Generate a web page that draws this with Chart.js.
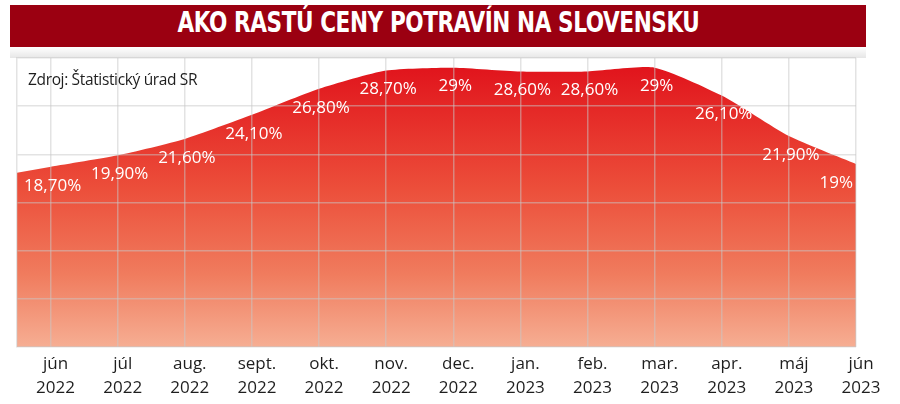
<!DOCTYPE html>
<html lang="sk">
<head>
<meta charset="utf-8">
<script src="https://cdn.jsdelivr.net/npm/chart.js@4/dist/chart.umd.min.js"></script>
<style>
  html, body { margin: 0; padding: 0; background: #fff; width: 900px; height: 404px; overflow: hidden; }
  #wrap { position: relative; width: 900px; height: 404px; }
  #chart { position: absolute; left: 0; top: 0; }
  #banner { position: absolute; left: 10px; top: 5px; width: 856px; height: 42px; background: #9b0011;
    text-align: center; line-height: 42px; }
  #title { display: inline-block; position: relative; top: 0px; color: #fff;
    font: bold 29px "DejaVu Sans Condensed", "DejaVu Sans", sans-serif; letter-spacing: -0.5px;
    transform-origin: 50% 50%; white-space: nowrap; }
  #shade { position: absolute; left: 10px; top: 47px; width: 856px; height: 11px;
    background: linear-gradient(to bottom, #ffffff, #e6e6e6); }
  #source { position: absolute; left: 28px; top: 68px; font: 15.5px "Open Sans", sans-serif; color: #1e1e1e; letter-spacing: -0.35px; }
</style>
</head>
<body>
<div id="wrap">
  <div id="banner"><span id="title">AKO RASTÚ CENY POTRAVÍN NA SLOVENSKU</span></div>
  <div id="shade"></div>
  <canvas id="chart" width="900" height="404"></canvas>
  <div id="source">Zdroj: Štatistický úrad SR</div>
</div>
<script>
const months = ['jún', 'júl', 'aug.', 'sept.', 'okt.', 'nov.', 'dec.', 'jan.', 'feb.', 'mar.', 'apr.', 'máj', 'jún'];
const years = ['2022', '2022', '2022', '2022', '2022', '2022', '2022', '2023', '2023', '2023', '2023', '2023', '2023'];
const inflation = [18.7, 19.9, 21.6, 24.1, 26.8, 28.7, 29, 28.6, 28.6, 29, 26.1, 21.9, 19];
const valueLabels = ['18,70%', '19,90%', '21,60%', '24,10%', '26,80%', '28,70%', '29%', '28,60%', '28,60%', '29%', '26,10%', '21,90%', '19%'];
const yMin = 0, yMax = 30, yStep = 5;

// condense the title to the reference width
(function () {
  const t = document.getElementById('title');
  const w = t.getBoundingClientRect().width;
  t.style.transform = 'scaleX(' + (522 / w) + ')';
})();

function makeGradient(ctx, area) {
  const g = ctx.createLinearGradient(0, area.top, 0, area.bottom);
  g.addColorStop(0, '#e0101a');
  g.addColorStop(0.45, '#ec4e3a');
  g.addColorStop(0.75, '#f07c5e');
  g.addColorStop(1, '#f6ae93');
  return g;
}

// extends the filled area to the left edge of the plot (continuing the first segment)
const leftEdge = {
  id: 'leftEdge',
  beforeDatasetsDraw(chart) {
    const meta = chart.getDatasetMeta(0);
    const p0 = meta.data[0], p1 = meta.data[1];
    const a = chart.chartArea;
    const slope = (p1.y - p0.y) / (p1.x - p0.x);
    const yL = p0.y - slope * (p0.x - a.left);
    const ctx = chart.ctx;
    ctx.save();
    ctx.fillStyle = makeGradient(ctx, a);
    ctx.beginPath();
    ctx.moveTo(a.left, a.bottom);
    ctx.lineTo(a.left, yL);
    ctx.lineTo(p0.x + 0.5, p0.y);
    ctx.lineTo(p0.x + 0.5, a.bottom);
    ctx.closePath();
    ctx.fill();
    ctx.restore();
  }
};

const valueText = {
  id: 'valueText',
  afterDraw(chart) {
    const meta = chart.getDatasetMeta(0);
    const a = chart.chartArea;
    const ctx = chart.ctx;
    ctx.save();
    ctx.font = '17px "Open Sans", sans-serif';
    ctx.fillStyle = '#ffffff';
    ctx.textBaseline = 'middle';
    meta.data.forEach((pt, i) => {
      const txt = valueLabels[i];
      const w = ctx.measureText(txt).width;
      let x = pt.x - w / 2 + 2;
      if (x + w > a.right - 3) x = a.right - 3 - w;
      ctx.fillText(txt, x, pt.y + 19);
    });
    ctx.restore();
  }
};

const gridColor = 'rgba(200,200,200,0.5)';
const ctx = document.getElementById('chart').getContext('2d');
new Chart(ctx, {
  type: 'line',
  data: {
    datasets: [{
      data: inflation.map((v, i) => ({ x: i, y: v })),
      fill: 'start',
      borderWidth: 0,
      pointRadius: 0,
      tension: 0.2,
      backgroundColor(c) {
        const a = c.chart.chartArea;
        if (!a) return '#e84a3a';
        return makeGradient(c.chart.ctx, a);
      }
    }]
  },
  options: {
    responsive: false,
    animation: false,
    events: [],
    layout: { padding: { left: 17, right: 44, top: 58, bottom: 0 } },
    plugins: { legend: { display: false }, tooltip: { enabled: false } },
    scales: {
      x: {
        type: 'linear',
        min: -0.5,
        max: months.length - 1,
        afterBuildTicks(scale) { scale.ticks = months.map((_, i) => ({ value: i })); },
        afterFit(scale) { scale.height = 57; },
        grid: { color: gridColor, lineWidth: 1.5, drawTicks: false, z: 1 },
        border: { display: false },
        ticks: {
          autoSkip: false,
          maxRotation: 0,
          padding: 5,
          labelOffset: 5,
          color: '#1e1e1e',
          font: { family: '"Open Sans", sans-serif', size: 17, lineHeight: 1.4 },
          callback(v) { const i = Math.round(v); return [months[i], years[i]]; }
        }
      },
      y: {
        min: yMin,
        max: yMax,
        afterFit(scale) { scale.width = 0; },
        grid: { color: gridColor, lineWidth: 1.5, drawTicks: false, z: 1 },
        border: { display: true, color: gridColor, width: 1.5, z: 1 },
        ticks: { display: false, stepSize: yStep }
      }
    }
  },
  plugins: [leftEdge, valueText]
});
</script>
</body>
</html>
